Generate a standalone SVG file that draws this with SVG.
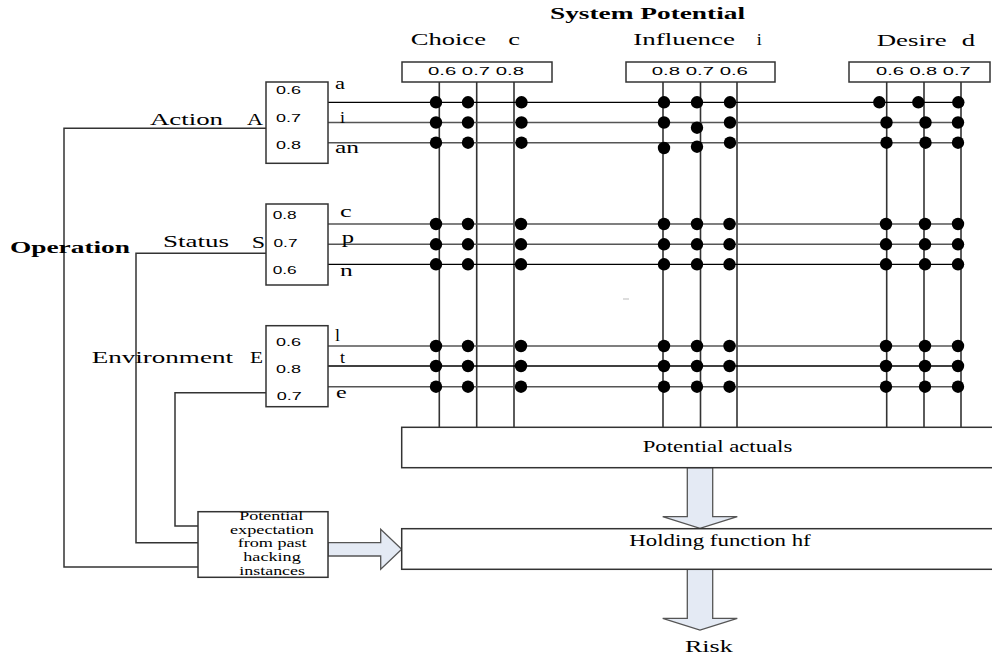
<svg xmlns="http://www.w3.org/2000/svg" width="992" height="658" viewBox="0 0 992 658">
<defs>
<style>
.box{fill:#fff;stroke:#333;stroke-width:1.5}
.serif{font-family:"Liberation Serif","Times New Roman",serif;font-size:16px;fill:#000}
.bold{font-weight:bold}
.sans{font-family:"Liberation Sans",Arial,sans-serif;font-size:11px;fill:#000}
.small{font-family:"Liberation Serif","Times New Roman",serif;font-size:11.5px;fill:#000}
.rowk{stroke:#000;stroke-width:1.3;fill:none}
.row{stroke:#555;stroke-width:1.6;fill:none}
.vline{stroke:#333;stroke-width:1.6;fill:none}
.wire{stroke:#333;stroke-width:1.5;fill:none}
.dot{fill:#000}
.arrow{fill:#E4EAF4;stroke:#555;stroke-width:1.3}
</style>
</defs>
<rect width="992" height="658" fill="#fff"/>

<!-- titles -->
<g id="title">
<text class="serif bold" x="550" y="19" textLength="195" lengthAdjust="spacingAndGlyphs">System Potential</text>
</g>

<!-- connectors -->
<g id="connectors">
<!-- vertical grid lines -->
<line class="vline" x1="439.3" y1="82" x2="439.3" y2="427.3"/>
<line class="vline" x1="476.7" y1="82" x2="476.7" y2="427.3"/>
<line class="vline" x1="514" y1="82" x2="514" y2="427.3"/>
<line class="vline" x1="663" y1="82" x2="663" y2="427.3"/>
<line class="vline" x1="700.5" y1="82" x2="700.5" y2="427.3"/>
<line class="vline" x1="737" y1="82" x2="737" y2="427.3"/>
<line class="vline" x1="886.7" y1="82" x2="886.7" y2="427.3"/>
<line class="vline" x1="924" y1="82" x2="924" y2="427.3"/>
<line class="vline" x1="961" y1="82" x2="961" y2="427.3"/>
<!-- rows -->
<line class="rowk" x1="328" y1="102.3" x2="963" y2="102.3"/>
<line class="row" x1="328" y1="122.5" x2="964" y2="122.5"/>
<line class="row" x1="328" y1="142.7" x2="964" y2="142.7"/>
<line class="row" x1="328" y1="224" x2="964" y2="224"/>
<line class="row" x1="328" y1="244.3" x2="964" y2="244.3"/>
<line class="rowk" x1="328" y1="264.3" x2="964" y2="264.3"/>
<line class="row" x1="328" y1="346" x2="964" y2="346"/>
<line class="rowk" x1="328" y1="366" x2="964" y2="366"/>
<line class="row" x1="328" y1="386.7" x2="964" y2="386.7"/>
<!-- left feed lines -->
<polyline class="wire" points="266,128.3 64,128.3 64,567 198,567"/>
<polyline class="wire" points="266,253.3 136,253.3 136,542.7 198,542.7"/>
<polyline class="wire" points="266,392.7 175,392.7 175,526 198,526"/>
<line x1="623" y1="299" x2="629" y2="299" stroke="#bbb" stroke-width="1"/>
<!-- dots row A -->
<g class="dot">
<circle cx="436" cy="102.3" r="6.2"/><circle cx="468" cy="102.3" r="6.2"/><circle cx="521.5" cy="102.3" r="6.2"/>
<circle cx="664" cy="102.3" r="6.2"/><circle cx="697" cy="102.3" r="6.2"/><circle cx="730" cy="102.3" r="6.2"/>
<circle cx="879.3" cy="102.3" r="6.2"/><circle cx="918.3" cy="102.3" r="6.2"/><circle cx="958.3" cy="102.3" r="6.2"/>

<circle cx="436" cy="122.5" r="6.2"/><circle cx="468" cy="122.5" r="6.2"/><circle cx="521.5" cy="122.5" r="6.2"/>
<circle cx="664" cy="122.5" r="6.2"/><circle cx="697" cy="127.7" r="6.2"/><circle cx="730" cy="122.5" r="6.2"/>
<circle cx="886.5" cy="122.5" r="6.2"/><circle cx="925.5" cy="122.5" r="6.2"/><circle cx="958" cy="122.5" r="6.2"/>

<circle cx="436" cy="142.7" r="6.2"/><circle cx="468" cy="142.7" r="6.2"/><circle cx="521.5" cy="142.7" r="6.2"/>
<circle cx="664" cy="148" r="6.2"/><circle cx="697" cy="146.7" r="6.2"/><circle cx="730" cy="142.7" r="6.2"/>
<circle cx="886.5" cy="142.7" r="6.2"/><circle cx="925.5" cy="142.7" r="6.2"/><circle cx="958" cy="142.7" r="6.2"/>

<!-- dots row S -->
<circle cx="436" cy="224" r="6.2"/><circle cx="468" cy="224" r="6.2"/><circle cx="521" cy="224" r="6.2"/>
<circle cx="664" cy="224" r="6.2"/><circle cx="697" cy="224" r="6.2"/><circle cx="729.5" cy="224" r="6.2"/>
<circle cx="886" cy="224" r="6.2"/><circle cx="925" cy="224" r="6.2"/><circle cx="958" cy="224" r="6.2"/>
<circle cx="436" cy="244.3" r="6.2"/><circle cx="468" cy="244.3" r="6.2"/><circle cx="521" cy="244.3" r="6.2"/>
<circle cx="664" cy="244.3" r="6.2"/><circle cx="697" cy="244.3" r="6.2"/><circle cx="729.5" cy="244.3" r="6.2"/>
<circle cx="886" cy="244.3" r="6.2"/><circle cx="925" cy="244.3" r="6.2"/><circle cx="958" cy="244.3" r="6.2"/>
<circle cx="436" cy="264.3" r="6.2"/><circle cx="468" cy="264.3" r="6.2"/><circle cx="521" cy="264.3" r="6.2"/>
<circle cx="664" cy="264.3" r="6.2"/><circle cx="697" cy="264.3" r="6.2"/><circle cx="729.5" cy="264.3" r="6.2"/>
<circle cx="886" cy="264.3" r="6.2"/><circle cx="925" cy="264.3" r="6.2"/><circle cx="958" cy="264.3" r="6.2"/>

<!-- dots row E -->
<circle cx="436" cy="346" r="6.2"/><circle cx="468" cy="346" r="6.2"/><circle cx="521" cy="346" r="6.2"/>
<circle cx="664" cy="346" r="6.2"/><circle cx="697" cy="346" r="6.2"/><circle cx="729.5" cy="346" r="6.2"/>
<circle cx="886" cy="346" r="6.2"/><circle cx="925" cy="346" r="6.2"/><circle cx="958" cy="346" r="6.2"/>
<circle cx="436" cy="366" r="6.2"/><circle cx="468" cy="366" r="6.2"/><circle cx="521" cy="366" r="6.2"/>
<circle cx="664" cy="366" r="6.2"/><circle cx="697" cy="366" r="6.2"/><circle cx="729.5" cy="366" r="6.2"/>
<circle cx="886" cy="366" r="6.2"/><circle cx="925" cy="366" r="6.2"/><circle cx="958" cy="366" r="6.2"/>
<circle cx="436" cy="386.7" r="6.2"/><circle cx="468" cy="386.7" r="6.2"/><circle cx="521" cy="386.7" r="6.2"/>
<circle cx="664" cy="386.7" r="6.2"/><circle cx="697" cy="386.7" r="6.2"/><circle cx="729.5" cy="386.7" r="6.2"/>
<circle cx="886" cy="386.7" r="6.2"/><circle cx="925" cy="386.7" r="6.2"/><circle cx="958" cy="386.7" r="6.2"/>
</g>
<!-- block arrows -->
<polygon class="arrow" points="328,542.7 380.7,542.7 380.7,529.3 401.7,549.3 380.7,569.3 380.7,556 328,556"/>
<polygon class="arrow" points="687.3,467.7 712.7,467.7 712.7,516.7 737.3,516.7 700,528.3 662.7,516.7 687.3,516.7"/>
<polygon class="arrow" points="687.3,569.3 712.7,569.3 712.7,618.3 737.3,618.3 700,630 662.7,618.3 687.3,618.3"/>
</g>

<!-- top boxes -->
<g id="choice">
<text class="serif" x="410.7" y="45" textLength="75.3" lengthAdjust="spacingAndGlyphs">Choice</text>
<text class="serif" x="508.3" y="45" textLength="11.7" lengthAdjust="spacingAndGlyphs">c</text>
<rect class="box" x="402" y="62" width="150" height="20"/>
<text class="sans" x="428" y="74.5" textLength="96" lengthAdjust="spacingAndGlyphs">0.6 0.7 0.8</text>
</g>
<g id="influence">
<text class="serif" x="633.3" y="45" textLength="101.7" lengthAdjust="spacingAndGlyphs">Influence</text>
<text class="serif" x="756.7" y="45" textLength="5" lengthAdjust="spacingAndGlyphs">i</text>
<rect class="box" x="626" y="62" width="149" height="20"/>
<text class="sans" x="651.7" y="74.5" textLength="96.3" lengthAdjust="spacingAndGlyphs">0.8 0.7 0.6</text>
</g>
<g id="desire">
<text class="serif" x="876.7" y="45.5" textLength="70" lengthAdjust="spacingAndGlyphs">Desire</text>
<text class="serif" x="961.7" y="45.5" textLength="13.3" lengthAdjust="spacingAndGlyphs">d</text>
<rect class="box" x="849" y="62" width="141" height="20"/>
<text class="sans" x="876" y="74.5" textLength="94.7" lengthAdjust="spacingAndGlyphs">0.6 0.8 0.7</text>
</g>

<!-- left boxes -->
<g id="action">
<text class="serif" x="150" y="125" textLength="73" lengthAdjust="spacingAndGlyphs">Action</text>
<text class="serif" x="247" y="125" textLength="16" lengthAdjust="spacingAndGlyphs">A</text>
<rect class="box" x="266" y="82" width="62" height="81.3"/>
<text class="sans" x="276" y="94.3" textLength="25" lengthAdjust="spacingAndGlyphs">0.6</text>
<text class="sans" x="276" y="121.7" textLength="25" lengthAdjust="spacingAndGlyphs">0.7</text>
<text class="sans" x="276" y="149.3" textLength="25" lengthAdjust="spacingAndGlyphs">0.8</text>
<text class="serif" x="335" y="89.3" textLength="10" lengthAdjust="spacingAndGlyphs">a</text>
<text class="serif" x="340" y="123.3" textLength="5" lengthAdjust="spacingAndGlyphs">i</text>
<text class="serif" x="335" y="153.3" textLength="24" lengthAdjust="spacingAndGlyphs">an</text>
</g>
<g id="operation">
<text class="serif bold" x="10" y="253.3" textLength="120" lengthAdjust="spacingAndGlyphs">Operation</text>
</g>
<g id="status">
<text class="serif" x="163" y="247.3" textLength="66" lengthAdjust="spacingAndGlyphs">Status</text>
<text class="serif" x="251.7" y="248" textLength="13.3" lengthAdjust="spacingAndGlyphs">S</text>
<rect class="box" x="266" y="204" width="62" height="81"/>
<text class="sans" x="272.7" y="219.3" textLength="24" lengthAdjust="spacingAndGlyphs">0.8</text>
<text class="sans" x="273.5" y="247.3" textLength="24" lengthAdjust="spacingAndGlyphs">0.7</text>
<text class="sans" x="272.7" y="274" textLength="24" lengthAdjust="spacingAndGlyphs">0.6</text>
<text class="serif" x="340" y="216.7" textLength="11.7" lengthAdjust="spacingAndGlyphs">c</text>
<text class="serif" x="341.7" y="242.7" textLength="12.3" lengthAdjust="spacingAndGlyphs">p</text>
<text class="serif" x="340" y="276" textLength="12.7" lengthAdjust="spacingAndGlyphs">n</text>
</g>
<g id="environment">
<text class="serif" x="91.7" y="363.3" textLength="141.3" lengthAdjust="spacingAndGlyphs">Environment</text>
<text class="serif" x="250" y="363.3" textLength="13" lengthAdjust="spacingAndGlyphs">E</text>
<rect class="box" x="266" y="325.7" width="62" height="81"/>
<text class="sans" x="276" y="346" textLength="25" lengthAdjust="spacingAndGlyphs">0.6</text>
<text class="sans" x="276" y="373.3" textLength="25" lengthAdjust="spacingAndGlyphs">0.8</text>
<text class="sans" x="276.7" y="400" textLength="25" lengthAdjust="spacingAndGlyphs">0.7</text>
<text class="serif" x="335" y="340.7" textLength="5" lengthAdjust="spacingAndGlyphs">l</text>
<text class="serif" x="340" y="363.3" textLength="5" lengthAdjust="spacingAndGlyphs">t</text>
<text class="serif" x="336" y="398.3" textLength="10.7" lengthAdjust="spacingAndGlyphs">e</text>
</g>

<!-- expectation -->
<g id="expectation">
<rect class="box" x="198" y="511.7" width="130" height="65.6"/>
<text class="small" x="239.3" y="520" textLength="64" lengthAdjust="spacingAndGlyphs">Potential</text>
<text class="small" x="230" y="533.7" textLength="84" lengthAdjust="spacingAndGlyphs">expectation</text>
<text class="small" x="237.7" y="547.4" textLength="69" lengthAdjust="spacingAndGlyphs">from past</text>
<text class="small" x="243.3" y="561.1" textLength="57.4" lengthAdjust="spacingAndGlyphs">hacking</text>
<text class="small" x="239.3" y="574.5" textLength="65.7" lengthAdjust="spacingAndGlyphs">instances</text>
</g>

<!-- potential actuals -->
<g id="potential-actuals">
<rect class="box" x="401.7" y="427.3" width="600" height="40.4"/>
<text class="serif" x="642.7" y="451.7" font-size="15" textLength="149.6" lengthAdjust="spacingAndGlyphs">Potential actuals</text>
</g>

<!-- holding function -->
<g id="holding-function">
<rect class="box" x="401.7" y="528.7" width="600" height="40.6"/>
<text class="serif" x="629.3" y="545.7" font-size="15" textLength="181.4" lengthAdjust="spacingAndGlyphs">Holding function hf</text>
</g>

<!-- risk -->
<g id="risk">
<text class="serif" x="685" y="651.7" font-size="15" textLength="47.7" lengthAdjust="spacingAndGlyphs">Risk</text>
</g>
</svg>
